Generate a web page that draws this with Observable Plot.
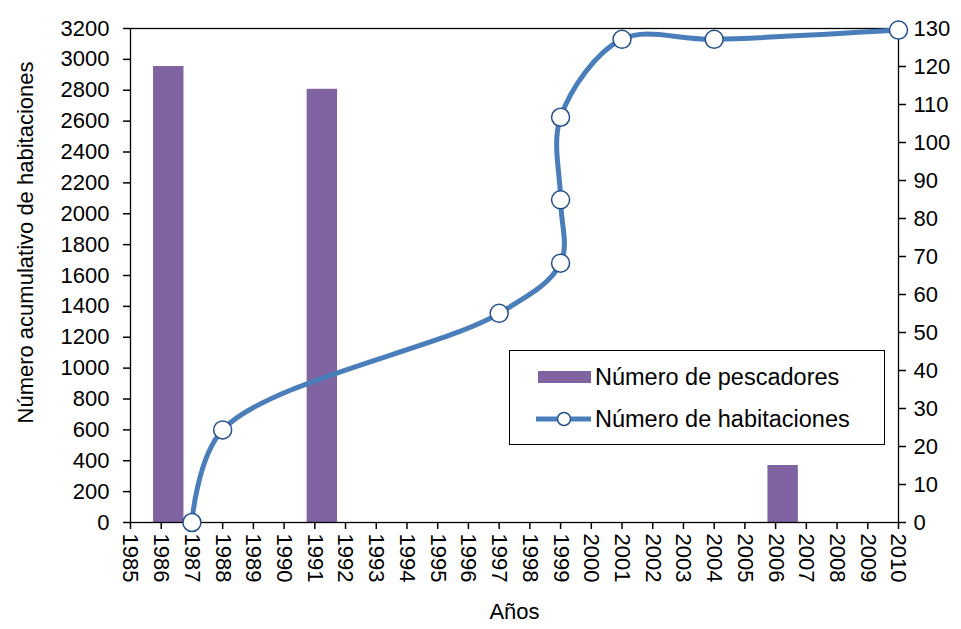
<!DOCTYPE html>
<html>
<head>
<meta charset="utf-8">
<script src="https://cdn.jsdelivr.net/npm/d3@7"></script>
<script src="https://cdn.jsdelivr.net/npm/@observablehq/plot@0.6"></script>
<style>
  html, body { margin: 0; padding: 0; background: #fff; }
  #wrap { position: relative; width: 961px; height: 629px; font-family: "Liberation Sans", Arial, sans-serif; }
  #legend { position: absolute; left: 509px; top: 350px; width: 376px; height: 95px; border: 1px solid #000; background: #fff; box-sizing: border-box; }
  .row { position: absolute; left: 24px; height: 30px; display: flex; align-items: center; font-size: 23.5px; color: #000; }
  .row svg { margin-right: 3px; }
</style>
</head>
<body>
<div id="wrap"></div>
<script>
// ---- data ----
const lineYears = [1987, 1988, 1997, 1999, 1999, 1999, 2001, 2004, 2010];
const habitaciones = [0, 600, 1355, 1680, 2090, 2625, 3130, 3130, 3190];
const barYears = [1986, 1991, 2006];
const pescadores = [120, 114, 15];
const xTickYears = [1985,1986,1987,1988,1989,1990,1991,1992,1993,1994,1995,1996,1997,1998,1999,2000,2001,2002,2003,2004,2005,2006,2007,2008,2009,2010];
const leftTicks = [0,200,400,600,800,1000,1200,1400,1600,1800,2000,2200,2400,2600,2800,3000,3200];
const rightTicks = [0,10,20,30,40,50,60,70,80,90,100,110,120,130];
const leftMax = 3200, rightMax = 130;
const leftTitle = "Número acumulativo de habitaciones";
const xTitle = "Años";
const seriesNames = ["Número de pescadores", "Número de habitaciones"];

const k = leftMax / rightMax;
const lineData = lineYears.map((year, i) => ({year, value: habitaciones[i]}));
const barData = barYears.map((year, i) => ({year, value: pescadores[i]}));

const lineColor = "#4A7EBB";
const barColor = "#8064A2";
const markerStroke = "#24508A";

const chart = Plot.plot({
  width: 961,
  height: 629,
  marginLeft: 130,
  marginRight: 63,
  marginTop: 28,
  marginBottom: 107,
  style: {fontSize: "22px", fontFamily: "'Liberation Sans', Arial, sans-serif", color: "#000", background: "#fff", overflow: "visible"},
  x: {domain: [1985, 2010]},
  y: {domain: [0, leftMax]},
  marks: [
    Plot.rect(barData, {x1: d => d.year - 0.25, x2: d => d.year + 0.74, y1: 0, y2: d => d.value * k, fill: barColor}),
    Plot.frame({stroke: "#000", strokeWidth: 1.3}),
    Plot.axisX(xTickYears, {anchor: "bottom", tickFormat: d => String(d), tickRotate: 90, tickSize: 7, tickPadding: 4, label: null, stroke: "#000", strokeWidth: 1.5}),
    Plot.axisY(leftTicks, {anchor: "left", tickFormat: d => String(d), tickSize: 7, tickPadding: 14, label: null, stroke: "#000", strokeWidth: 1.5}),
    Plot.axisY(rightTicks.map(v => v * k), {anchor: "right", tickFormat: d => String(Math.round(d / k)), tickSize: 7, tickPadding: 8, label: null, stroke: "#000", strokeWidth: 1.5}),
    Plot.line(lineData, {x: "year", y: "value", curve: "catmull-rom", stroke: lineColor, strokeWidth: 5}),
    Plot.dot(lineData, {x: "year", y: "value", r: 9, fill: "#fff", stroke: markerStroke, strokeWidth: 1.5}),
    Plot.text([xTitle], {frameAnchor: "bottom", dy: 96, textAnchor: "middle", fill: "#000"}),
    Plot.text([leftTitle], {frameAnchor: "left", dx: -105, dy: -33, rotate: -90, textAnchor: "middle", fill: "#000"})
  ]
});

const wrap = document.getElementById("wrap");
wrap.appendChild(chart);

// legend
const legend = document.createElement("div");
legend.id = "legend";
legend.innerHTML = `
  <div class="row" style="top:11px;">
    <svg width="58" height="20"><rect x="4" y="4" width="53" height="12" fill="${barColor}"></rect></svg>
    <span>${seriesNames[0]}</span>
  </div>
  <div class="row" style="top:53px;">
    <svg width="58" height="20"><line x1="2" x2="57" y1="10" y2="10" stroke="${lineColor}" stroke-width="5"></line><circle cx="30" cy="10" r="6.5" fill="#fff" stroke="${markerStroke}" stroke-width="1.5"></circle></svg>
    <span>${seriesNames[1]}</span>
  </div>`;
wrap.appendChild(legend);
</script>
</body>
</html>
